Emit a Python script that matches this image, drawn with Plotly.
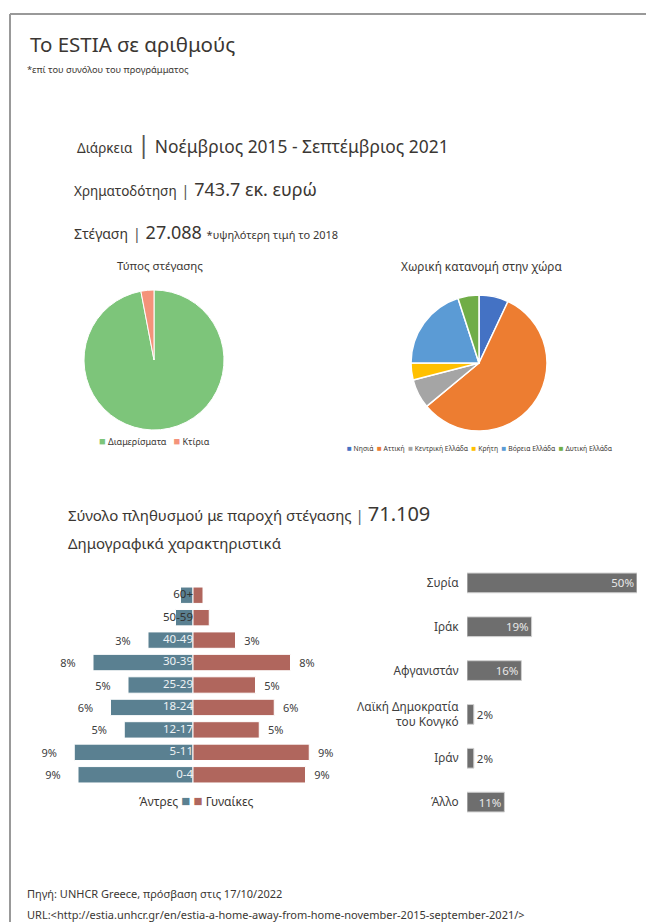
import plotly.graph_objects as go

W, H = 646, 922
FONT = "Noto Sans"
DARK = "#3b3733"

housing_types = ["Διαμερίσματα", "Κτίρια"]
housing_share = [97, 3]
housing_colors = ["#7dc57a", "#f4937a"]

regions = ["Νησιά", "Αττική", "Κεντρική Ελλάδα", "Κρήτη", "Βόρεια Ελλάδα", "Δυτική Ελλάδα"]
region_share = [7, 57, 7, 4, 20, 5]
region_colors = ["#4472c4", "#ed7d31", "#a5a5a5", "#ffc000", "#5b9bd5", "#70ad47"]

age_groups = ["60+", "50-59", "40-49", "30-39", "25-29", "18-24", "12-17", "5-11", "0-4"]
men_pct = [1.0, 1.4, 3.6, 8.0, 5.2, 6.6, 5.5, 9.5, 9.2]
women_pct = [0.8, 1.3, 3.4, 7.8, 5.0, 6.5, 5.3, 9.3, 9.0]
men_labels = ["", "", "3%", "8%", "5%", "6%", "5%", "9%", "9%"]
women_labels = ["", "", "3%", "8%", "5%", "6%", "5%", "9%", "9%"]
men_color, women_color = "#5a8091", "#b0665d"

countries = ["Συρία", "Ιράκ", "Αφγανιστάν", "Λαϊκή Δημοκρατία<br>του Κονγκό", "Ιράν", "Άλλο"]
country_pct = [50, 19, 16, 2, 2, 11]
country_labels = ["50%", "19%", "16%", "2%", "2%", "11%"]


def fx(p):
    return p / W


def fy(p):
    return 1 - p / H


def square(color, size):
    return f"<span style='color:{color};font-size:{size}px'>■</span>"


def legend_text(names, colors, size, gap=3):
    parts = [f"{square(c, size)} {n}" for n, c in zip(names, colors)]
    return ("\u00a0" * gap).join(parts)


def sep(size):
    return f"<span style='font-size:{size}px;color:#555'>|</span>"


fig = go.Figure()

# pies
fig.add_trace(go.Pie(labels=housing_types, values=housing_share, sort=False,
                     direction="clockwise", rotation=0, textinfo="none",
                     marker=dict(colors=housing_colors, line=dict(color="white", width=1)),
                     domain=dict(x=[fx(84), fx(224)], y=[fy(430), fy(290)]),
                     showlegend=False))
fig.add_trace(go.Pie(labels=regions, values=region_share, sort=False,
                     direction="clockwise", rotation=0, textinfo="none",
                     marker=dict(colors=region_colors, line=dict(color="white", width=1.5)),
                     domain=dict(x=[fx(411), fx(547)], y=[fy(431), fy(295)]),
                     showlegend=False))

# population pyramid
fig.add_trace(go.Bar(y=age_groups, x=[-v for v in men_pct], orientation="h",
                     marker=dict(color=men_color, line=dict(color="white", width=1)),
                     text=[t + "\u00a0" * 5 if t else t for t in men_labels],
                     textposition="outside", cliponaxis=False,
                     outsidetextfont=dict(color="#404040", size=11, family=FONT),
                     showlegend=False, xaxis="x", yaxis="y"))
fig.add_trace(go.Bar(y=age_groups, x=women_pct, orientation="h",
                     marker=dict(color=women_color, line=dict(color="white", width=1)),
                     text=["\u00a0\u00a0" + t if t else t for t in women_labels],
                     textposition="outside", cliponaxis=False,
                     outsidetextfont=dict(color="#404040", size=11, family=FONT),
                     showlegend=False, xaxis="x", yaxis="y"))
fig.add_trace(go.Scatter(y=age_groups, x=[0] * len(age_groups), mode="text",
                         text=age_groups, textposition="middle left",
                         textfont=dict(size=11.5, family=FONT,
                                       color=["#333333" if v < 2 else "#eef2f4" for v in men_pct]),
                         cliponaxis=False, showlegend=False, xaxis="x", yaxis="y"))

# countries
fig.add_trace(go.Bar(y=countries, x=country_pct, orientation="h", width=0.45,
                     marker=dict(color="#6e6e6e", line=dict(color="#d0d0d0", width=1)),
                     text=country_labels,
                     textposition=["inside" if v > 5 else "outside" for v in country_pct],
                     insidetextanchor="end", constraintext="none", textangle=0,
                     insidetextfont=dict(color="#e8e8e8", size=11.5, family=FONT),
                     outsidetextfont=dict(color="#404040", size=11.5, family=FONT),
                     cliponaxis=False, showlegend=False, xaxis="x2", yaxis="y2"))

fig.update_layout(
    width=W, height=H,
    margin=dict(l=0, r=0, t=0, b=0),
    paper_bgcolor="white", plot_bgcolor="white",
    font=dict(family=FONT, color=DARK),
    barmode="relative", bargap=0.27,
    xaxis=dict(domain=[fx(40), fx(346)], range=[-12.24, 12.24], visible=False),
    yaxis=dict(domain=[fy(786), fy(584)], autorange="reversed", visible=False),
    xaxis2=dict(domain=[fx(467), fx(637)], range=[0, 50], visible=False, anchor="y2"),
    yaxis2=dict(domain=[fy(824), fy(561)], autorange="reversed", anchor="x2",
                showline=False, showgrid=False, zeroline=False,
                ticks="outside", ticklen=5, tickcolor="rgba(0,0,0,0)",
                tickfont=dict(size=11.8, color="#404040", family=FONT)),
)

# frame
fig.add_shape(type="line", xref="paper", yref="paper", x0=fx(10), x1=1.02, y0=fy(14), y1=fy(14),
              line=dict(color="#999999", width=2))
fig.add_shape(type="line", xref="paper", yref="paper", x0=fx(10), x1=fx(10), y0=fy(14), y1=-0.02,
              line=dict(color="#999999", width=2))

texts = [
    (28, 44, "Το ESTIA σε αριθμούς", 20.5, "left"),
    (25, 69, "*επί του συνόλου του προγράμματος", 9.3, "left"),
    (75, 143, f"<span style='font-size:13.5px'>Διάρκεια</span> {sep(24)} Νοέμβριος 2015 - Σεπτέμβριος 2021", 17.4, "left"),
    (72, 189, f"<span style='font-size:13.5px'>Χρηματοδότηση</span> {sep(15)} 743.7 εκ. ευρώ", 18, "left"),
    (72, 232, f"<span style='font-size:14px'>Στέγαση</span> {sep(15)} 27.088 <span style='font-size:11px'>*υψηλότερη τιμή το 2018</span>", 18, "left"),
    (160, 265, "Τύπος στέγασης", 11.5, "center"),
    (482, 266, "Χωρική κατανομή στην χώρα", 11.8, "center"),
    (154, 441, legend_text(housing_types, housing_colors, 11), 9, "center"),
    (480, 447, legend_text(regions, region_colors, 8, 2), 6.8, "center"),
    (66, 513, f"Σύνολο πληθυσμού με παροχή στέγασης {sep(15)} <span style='font-size:20px'>71.109</span>", 15, "left"),
    (66, 543, "Δημογραφικά χαρακτηριστικά", 15, "left"),
    (196, 800, f"Άντρες {square(men_color, 15)} {square(women_color, 15)} Γυναίκες", 12, "center"),
    (25, 893, "Πηγή: UNHCR Greece, πρόσβαση στις 17/10/2022", 11, "left"),
    (25, 914, "URL:&lt;http://estia.unhcr.gr/en/estia-a-home-away-from-home-november-2015-september-2021/&gt;", 11, "left"),
]
for x, y, t, s, anchor in texts:
    fig.add_annotation(x=fx(x), y=fy(y), xref="paper", yref="paper", text=t,
                       showarrow=False, xanchor=anchor, yanchor="middle",
                       font=dict(size=s, family=FONT, color=DARK))

fig.write_html("out.html", config={"displayModeBar": False},
               post_script="document.body.style.margin='0';")
